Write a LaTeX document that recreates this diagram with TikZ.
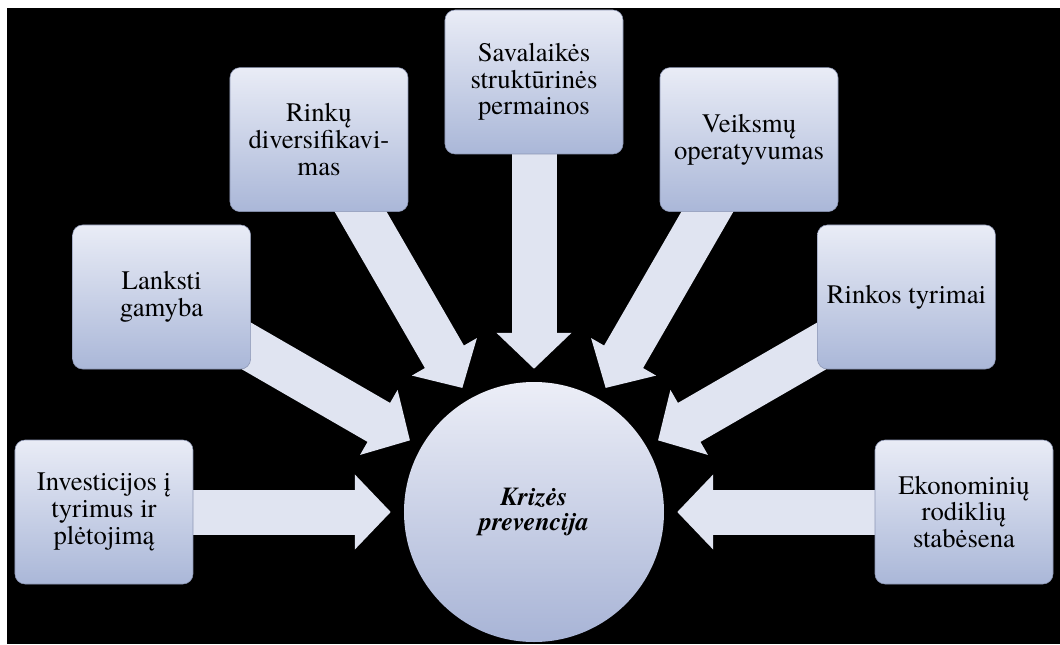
\documentclass[tikz,border=0pt]{standalone}
\usepackage{fontspec}
\setmainfont{texgyretermes}[Extension=.otf, UprightFont=*-regular, BoldFont=*-bold, ItalicFont=*-italic, BoldItalicFont=*-bolditalic]
\usetikzlibrary{arrows.meta,backgrounds}

\definecolor{boxtop}{RGB}{233,236,246}
\definecolor{boxbot}{RGB}{170,183,216}
\definecolor{boxline}{RGB}{140,150,180}
\definecolor{circtop}{RGB}{236,238,247}
\definecolor{circbot}{RGB}{168,180,214}
\definecolor{arrowfill}{RGB}{224,228,241}

\begin{document}
\begin{tikzpicture}[font=\fontsize{19}{19}\selectfont]
% Define styles
\tikzstyle{factor} = [rectangle, rounded corners=0.25cm, draw=boxline, line width=0.4pt, top color=boxtop, bottom color=boxbot, align=center, minimum width=4.45cm, minimum height=3.6cm]
\tikzstyle{goal} = [circle, top color=circtop, bottom color=circbot, minimum size=6.5cm, inner sep=0pt, outer sep=0pt, align=center, font=\fontsize{18.5}{18}\selectfont\bfseries\itshape]
\tikzstyle{arrow} = [line width=1.125cm, draw=arrowfill, shorten >=0.33cm, -{Triangle[width=1.825cm 0 0, length=0.9cm 0 0]}]

% Frame
\useasboundingbox (-13.35,-3.3) rectangle (13.15,12.8);
\begin{scope}[on background layer]
\fill[white] (-13.35,-3.3) rectangle (13.15,12.8);
\fill[black] (-13.175,-3.3) rectangle (13.15,12.6);
\end{scope}

% Centre node
\node[goal] (krize) at (0,0) {Krizės\\prevencija};

% Factors around the centre
\node[factor] (investicijos) at (180:10.75) {Investicijos į\\tyrimus ir\\plėtojimą};
\node[factor] (lanksti) at (150:10.75) {Lanksti\\gamyba};
\node[factor] (rinku) at (120:10.75) {Rinkų\\diversifikavi-\\mas};
\node[factor] (savalaikes) at (90:10.75) {Savalaikės\\struktūrinės\\permainos};
\node[factor] (veiksmu) at (60:10.75) {Veiksmų\\operatyvumas};
\node[factor] (rinkos) at (30:10.75) {Rinkos tyrimai};
\node[factor] (ekonominiu) at (0:10.75) {Ekonominių\\rodiklių\\stabėsena};

% Arrows into the centre
\begin{scope}[on background layer]
\draw[arrow] (investicijos.center) -- (krize);
\draw[arrow] (lanksti.center) -- (krize);
\draw[arrow] (rinku.center) -- (krize);
\draw[arrow] (savalaikes.center) -- (krize);
\draw[arrow] (veiksmu.center) -- (krize);
\draw[arrow] (rinkos.center) -- (krize);
\draw[arrow] (ekonominiu.center) -- (krize);
\end{scope}

\end{tikzpicture}
\end{document}
